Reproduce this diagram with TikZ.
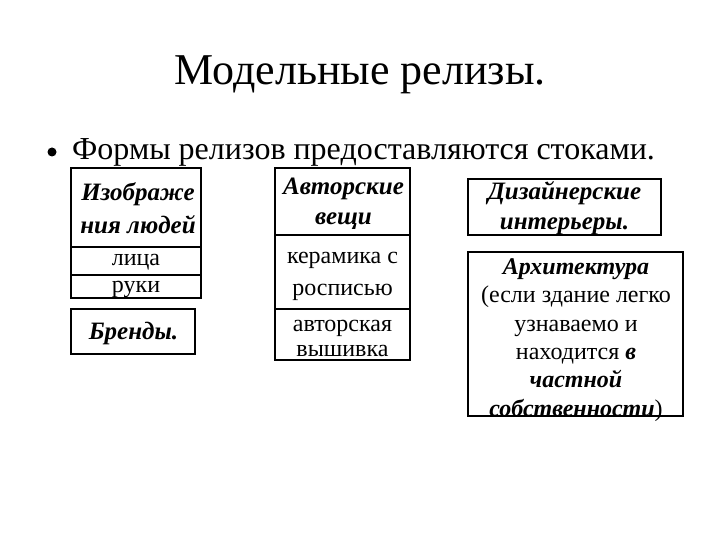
\documentclass[tikz,border=0pt]{standalone}
\usepackage{fontspec}
\setmainfont{Liberation Serif}
\begin{document}
\begin{tikzpicture}[x=1pt,y=-1pt,
  box/.style={draw, line width=1.5pt, inner sep=0pt},
  lbl/.style={align=center, inner sep=0pt},
  reg/.style={lbl, font=\fontsize{24}{#1}\selectfont},
  bi/.style={lbl, font=\fontsize{25}{#1}\selectfont\bfseries\itshape}]
\useasboundingbox (0,0) rectangle (720,540);
\node[font=\fontsize{44}{50}\selectfont, anchor=base, inner sep=0pt] (title) at (360,85) {Модельные релизы.};
\node[circle, fill, inner sep=0pt, minimum size=9pt] (dot) at (52,152) {};
\node[font=\fontsize{32}{38}\selectfont, anchor=base west, inner sep=0pt] (bul) at (72,160) {Формы релизов предоставляются стоками.};
% column 1
\node[box, minimum width=130pt, minimum height=79pt] (izo) at (136,207.5) {};
\node[box, minimum width=130pt, minimum height=28pt] (lica) at (136,261) {};
\node[box, minimum width=130pt, minimum height=23pt] (ruki) at (136,286.5) {};
\node[box, minimum width=124pt, minimum height=45pt] (brand) at (133,331.5) {};
\node[bi=33] (izoT) at (138,208) {Изображе\\ния людей};
\node[reg=26] (licaT) at (136,262) {лица};
\node[reg=26] (rukiT) at (136,289) {руки};
\node[bi=26] (brandT) at (133.5,333) {Бренды.};
% column 2
\node[box, minimum width=135pt, minimum height=67pt] (avt) at (342.5,201.5) {};
\node[box, minimum width=135pt, minimum height=74pt] (ker) at (342.5,272) {};
\node[box, minimum width=135pt, minimum height=51pt] (vysh) at (342.5,334.5) {};
\node[bi=30] (avtT) at (343.5,204) {Авторские\\вещи};
\node[reg=32] (kerT) at (342.5,276) {керамика с\\росписью};
\node[reg=25] (vyshT) at (342.5,338) {авторская\\вышивка};
% column 3
\node[box, minimum width=193pt, minimum height=56pt] (diz) at (564.5,207) {};
\node[box, minimum width=215pt, minimum height=164pt] (arch) at (575.5,334) {};
\node[bi=30] (dizT) at (564.5,208) {Дизайнерские\\интерьеры.};
\node[reg=28.4] (archT) at (576,340) {\textbf{\textit{Архитектура}}\\(если здание легко\\узнаваемо и\\находится \textbf{\textit{в}}\\\textbf{\textit{частной}}\\\textbf{\textit{собственности}})};
\end{tikzpicture}
\end{document}
